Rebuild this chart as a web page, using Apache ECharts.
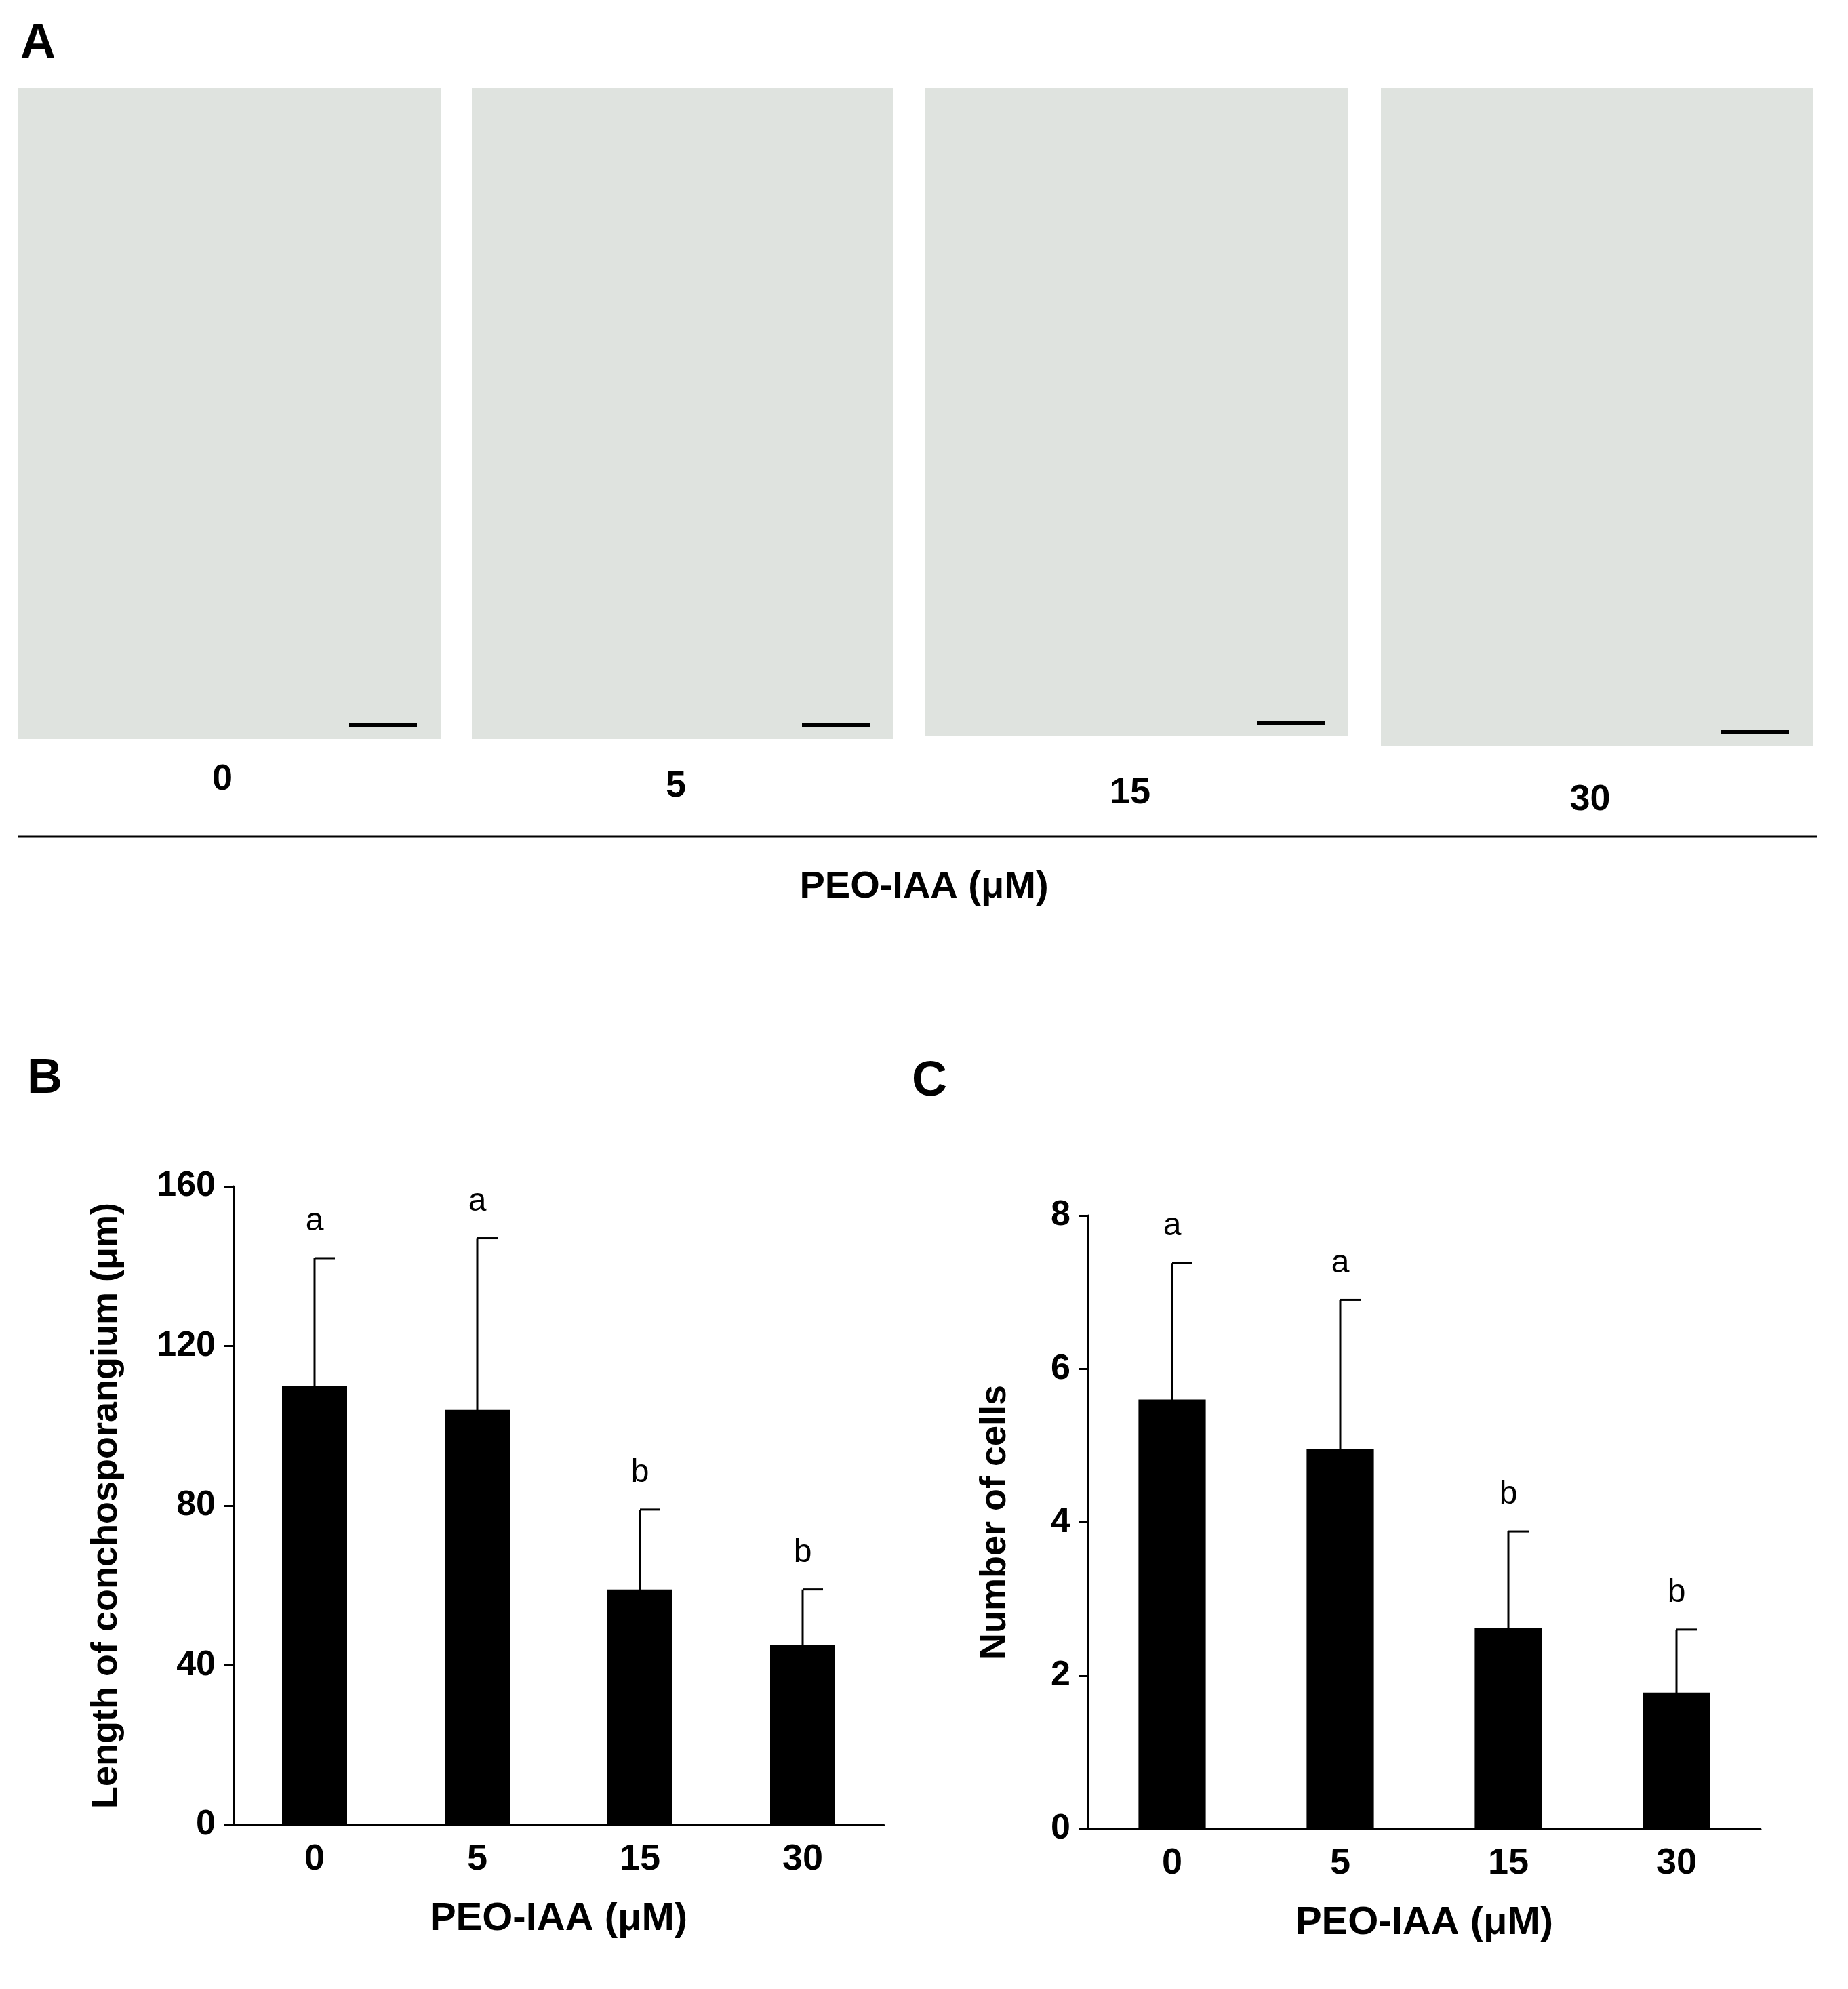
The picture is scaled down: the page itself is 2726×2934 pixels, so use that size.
<!DOCTYPE html>
<html><head><meta charset="utf-8">
<script src="https://cdn.jsdelivr.net/npm/echarts@6/dist/echarts.min.js"></script>
<style>html,body{margin:0;background:#fff}#c{width:2726px;height:2934px}</style>
</head><body><div id="c"></div>
<script>
var doses = ["0", "5", "15", "30"];
var lengthMean = [110, 104, 59, 45];
var lengthTop = [142, 147, 79, 59];
var lengthSig = ["a", "a", "b", "b"];
var cellMean = [5.6, 4.95, 2.62, 1.78];
var cellTop = [7.38, 6.9, 3.88, 2.6];
var cellSig = ["a", "a", "b", "b"];
var lengthTicks = [0, 40, 80, 120, 160];
var cellTicks = [0, 2, 4, 6, 8];

var F = "Liberation Sans, Arial, sans-serif";
var chart = echarts.init(document.getElementById("c"));

function errSeries(idx, tops, sig) {
	return {
		type: "custom", xAxisIndex: idx, yAxisIndex: idx, z: 1,
		data: tops.map(function(v, i) { return [i, v, sig[i]]; }),
		renderItem: function(p, api) {
			var t = api.coord([api.value(0), api.value(1)]);
			var b = api.coord([api.value(0), 0]);
			return { type: "group", children: [
				{ type: "line", shape: { x1: t[0], y1: t[1], x2: t[0], y2: b[1] }, style: { stroke: "#000", lineWidth: 3 } },
				{ type: "line", shape: { x1: t[0], y1: t[1], x2: t[0] + 30, y2: t[1] }, style: { stroke: "#000", lineWidth: 3 } },
				{ type: "text", style: { text: sig[api.value(0)], x: t[0], y: t[1] - 30, align: "center", verticalAlign: "bottom", font: "48px " + F, fill: "#000" } }
			]};
		}
	};
}

// panel A placeholders for the micrographs
var photos = [[26, 130, 624, 960], [696, 130, 622, 960], [1365, 130, 624, 956], [2037, 130, 637, 970]];
var graphics = [];
photos.forEach(function(r, i) {
	graphics.push({ type: "rect", shape: { x: r[0], y: r[1], width: r[2], height: r[3] }, style: { fill: "#dfe3df" } });
	graphics.push({ type: "line", shape: { x1: r[0] + r[2] - 135, y1: r[1] + r[3] - 20, x2: r[0] + r[2] - 35, y2: r[1] + r[3] - 20 }, style: { stroke: "#000", lineWidth: 6 } });
	graphics.push({ type: "text", style: { text: doses[i], x: r[0] + r[2] / 2 - 10, y: 1150 + i * 10, align: "center", verticalAlign: "middle", font: "bold 54px " + F, fill: "#000" } });
});
graphics.push({ type: "line", shape: { x1: 26, y1: 1234, x2: 2681, y2: 1234 }, style: { stroke: "#000", lineWidth: 3 } });
graphics.push({ type: "text", style: { text: "PEO-IAA (μM)", x: 1363, y: 1309, align: "center", verticalAlign: "middle", font: "bold 56px " + F, fill: "#000" } });
graphics.push({ type: "text", style: { text: "A", x: 30, y: 65, verticalAlign: "middle", font: "bold 72px " + F, fill: "#000" } });
graphics.push({ type: "text", style: { text: "B", x: 40, y: 1592, verticalAlign: "middle", font: "bold 72px " + F, fill: "#000" } });
graphics.push({ type: "text", style: { text: "C", x: 1345, y: 1596, verticalAlign: "middle", font: "bold 72px " + F, fill: "#000" } });

function xAx(i) {
	return { type: "category", gridIndex: i, data: doses,
		axisLine: { lineStyle: { color: "#000", width: 3 } }, axisTick: { show: false },
		axisLabel: { color: "#000", fontFamily: F, fontWeight: "bold", fontSize: 54, margin: 24 },
		name: "PEO-IAA (μM)", nameLocation: "middle", nameGap: 110,
		nameTextStyle: { color: "#000", fontFamily: F, fontWeight: "bold", fontSize: 58 } };
}
function yAx(i, max, interval, name, gap) {
	return { type: "value", gridIndex: i, min: 0, max: max, interval: interval,
		axisLine: { show: true, lineStyle: { color: "#000", width: 3 } },
		axisTick: { show: true, length: 14, lineStyle: { width: 3 } }, splitLine: { show: false },
		axisLabel: { color: "#000", fontFamily: F, fontWeight: "bold", fontSize: 52, margin: 26 },
		name: name, nameLocation: "middle", nameGap: gap,
		nameTextStyle: { color: "#000", fontFamily: F, fontWeight: "bold", fontSize: 54 } };
}

chart.setOption({
	animation: false,
	graphic: graphics,
	grid: [
		{ left: 344, top: 1750, width: 960, height: 942 },
		{ left: 1605, top: 1793, width: 992, height: 905 }
	],
	xAxis: [xAx(0), xAx(1)],
	yAxis: [yAx(0, 160, 40, "Length of conchosporangium (μm)", 160), yAx(1, 8, 2, "Number of cells", 110)],
	series: [
		errSeries(0, lengthTop, lengthSig),
		{ type: "bar", xAxisIndex: 0, yAxisIndex: 0, data: lengthMean, barWidth: "40%", itemStyle: { color: "#000" }, z: 2 },
		errSeries(1, cellTop, cellSig),
		{ type: "bar", xAxisIndex: 1, yAxisIndex: 1, data: cellMean, barWidth: "40%", itemStyle: { color: "#000" }, z: 2 }
	]
});
</script>
</body></html>
